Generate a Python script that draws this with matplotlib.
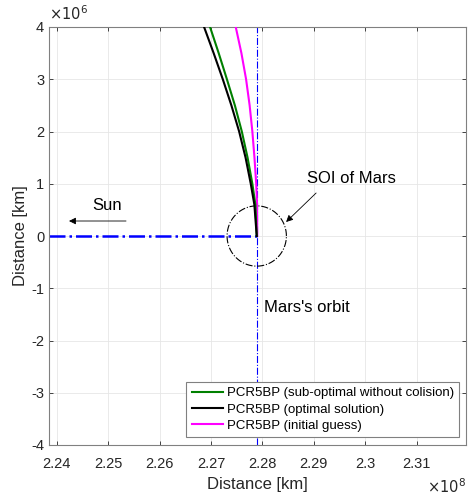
import numpy as np
import matplotlib
matplotlib.use("Agg")
import matplotlib.pyplot as plt
from matplotlib.ticker import FuncFormatter, FixedLocator

plt.rcParams['font.family'] = ['Liberation Sans', 'DejaVu Sans']

# ---- data (x in km, y in km) ----
mars_x = 2.2789e8
soi_radius = 5.77e5

y_pts = np.array([0.0, 0.6, 1.0, 1.5, 2.0, 2.5, 3.0, 3.5, 4.0]) * 1e6
x_suboptimal = np.array([2.2789, 2.27864, 2.27805, 2.27712, 2.27600, 2.27465, 2.27310, 2.27150, 2.26982]) * 1e8
x_optimal = np.array([2.2789, 2.27844, 2.27774, 2.27673, 2.27548, 2.27397, 2.27230, 2.27052, 2.26866]) * 1e8
x_initial = np.array([2.2790, 2.27897, 2.27880, 2.27846, 2.27805, 2.27752, 2.27683, 2.27592, 2.27482]) * 1e8

labels = ["PCR5BP (sub-optimal without colision)",
          "PCR5BP (optimal solution)",
          "PCR5BP (initial guess)"]

x_ticks = [2.24e8, 2.25e8, 2.26e8, 2.27e8, 2.28e8, 2.29e8, 2.30e8, 2.31e8]
y_ticks = [-4e6, -3e6, -2e6, -1e6, 0, 1e6, 2e6, 3e6, 4e6]
xlim = (2.2385e8, 2.3196e8)
ylim = (-4e6, 4e6)

# ---- figure ----
fig = plt.figure(figsize=(4.69, 4.95), dpi=100)
ax = fig.add_axes([49/469, 50/495, 417/469, 418/495])

txtc = '#262626'
ax.plot(x_suboptimal, y_pts, color='#008000', lw=1.5, label=labels[0], zorder=4)
ax.plot(x_optimal, y_pts, color='black', lw=1.5, label=labels[1], zorder=4)
ax.plot(x_initial, y_pts, color='#FF00FF', lw=1.5, label=labels[2], zorder=3)

# Sun direction line
ax.plot([xlim[0], mars_x], [0, 0], color='blue', lw=1.8, ls='-.', zorder=2)
# Mars orbit
ax.plot([mars_x, mars_x], [ylim[0], ylim[1]], color='blue', lw=0.8, ls='-.', zorder=2)
# SOI circle
t = np.linspace(0, 2*np.pi, 300)
ax.plot(mars_x + soi_radius*np.cos(t), soi_radius*np.sin(t), color='black', lw=0.8, ls='-.', zorder=2)

ax.set_xlim(*xlim)
ax.set_ylim(*ylim)
ax.xaxis.set_major_locator(FixedLocator(x_ticks))
ax.yaxis.set_major_locator(FixedLocator(y_ticks))
ax.xaxis.set_major_formatter(FuncFormatter(lambda v, p: f"{v/1e8:g}"))
ax.yaxis.set_major_formatter(FuncFormatter(lambda v, p: f"{v/1e6:g}"))
ax.tick_params(direction='in', top=True, right=True, labelsize=10.5, colors='#262626',
               length=3, width=0.6)
ax.tick_params(axis='x', pad=9)
for s in ax.spines.values():
    s.set_color('#808080')
    s.set_linewidth(0.8)
ax.grid(True, color='#e6e6e6', lw=0.6)
ax.set_axisbelow(True)

ax.set_xlabel("Distance [km]", fontsize=12, color=txtc, labelpad=4)
ax.set_ylabel("Distance [km]", fontsize=12, color=txtc, labelpad=2)

fig.text(49/469, 1 - 14/495, r"$\times10^6$", fontsize=10.5, color=txtc, ha='left', va='center')
fig.text(466/469, 1 - 487/495, r"$\times10^8$", fontsize=10.5, color=txtc, ha='right', va='center')

# annotations
ax.text(2.24979e8, 0.593e6, "Sun", fontsize=12, color='black', ha='center', va='center')
ax.annotate("", xy=(2.24239e8, 0.287e6), xytext=(2.25348e8, 0.287e6),
            arrowprops=dict(arrowstyle='-|>', color='black', lw=0.6, mutation_scale=10,
                            shrinkA=0, shrinkB=0))
ax.text(2.29726e8, 1.11e6, "SOI of Mars", fontsize=12, color='black', ha='center', va='center')
ax.annotate("", xy=(2.28461e8, 0.268e6), xytext=(2.29045e8, 0.823e6),
            arrowprops=dict(arrowstyle='-|>', color='black', lw=0.6, mutation_scale=10,
                            shrinkA=0, shrinkB=0))
ax.text(2.28033e8, -1.359e6, "Mars's orbit", fontsize=12, color='black', ha='left', va='center')

leg = ax.legend(loc='lower right', bbox_to_anchor=(0.983, 0.019), borderaxespad=0,
                fontsize=9.5, fancybox=False, edgecolor='#808080', framealpha=1,
                handlelength=2.35, labelspacing=0.3, borderpad=0.4, handletextpad=0.3)
leg.get_frame().set_linewidth(0.8)

fig.savefig("out.png", dpi=100)
